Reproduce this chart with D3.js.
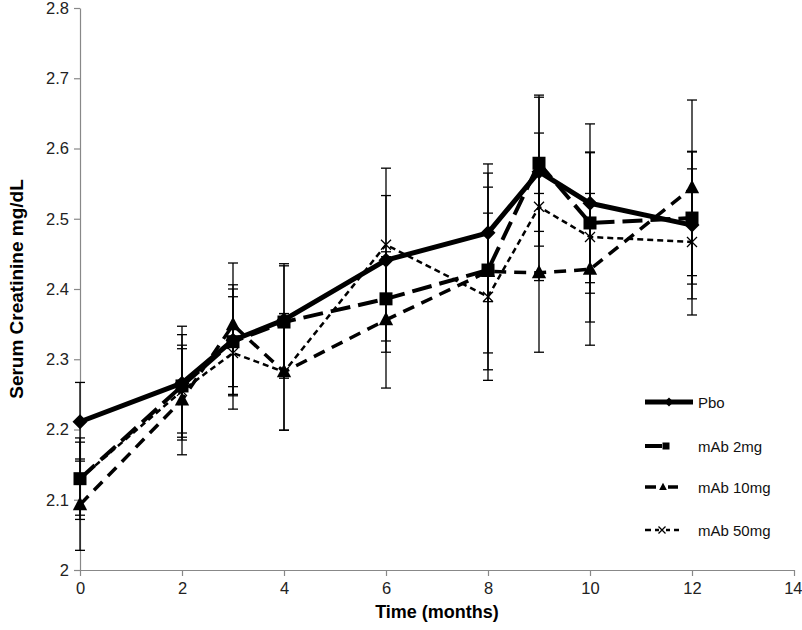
<!DOCTYPE html>
<html><head><meta charset="utf-8">
<script src="https://cdn.jsdelivr.net/npm/d3@7"></script>
<style>body{margin:0;background:#fff;} text{font-family:"Liberation Sans",Arial,sans-serif;}</style>
</head><body>
<svg id="c" width="802" height="630"></svg>
<script>
const months = [0, 2, 3, 4, 6, 8, 9, 10, 12];
const seriesNames = ["Pbo", "mAb 2mg", "mAb 10mg", "mAb 50mg"];
const pboValues  = [2.211, 2.266, 2.327, 2.356, 2.441, 2.480, 2.567, 2.522, 2.491];
const pboErr     = [0.056, 0.081, 0.079, 0.080, 0.131, 0.098, 0.106, 0.113, 0.105];
const mab2Values = [2.130, 2.262, 2.325, 2.353, 2.386, 2.427, 2.579, 2.494, 2.501];
const mab2Err    = [0.058, 0.073, 0.075, 0.080, 0.060, 0.118, 0.097, 0.100, 0.094];
const mab10Values= [2.093, 2.242, 2.349, 2.282, 2.356, 2.425, 2.423, 2.428, 2.544];
const mab10Err   = [0.065, 0.078, 0.088, 0.083, 0.097, 0.140, 0.113, 0.108, 0.125];
const mab50Values= [2.130, 2.255, 2.309, 2.282, 2.463, 2.389, 2.517, 2.474, 2.467];
const mab50Err   = [0.052, 0.060, 0.080, 0.083, 0.070, 0.119, 0.105, 0.121, 0.104];
const xTicks = [0, 2, 4, 6, 8, 10, 12, 14];
const yTicks = [2, 2.1, 2.2, 2.3, 2.4, 2.5, 2.6, 2.7, 2.8];

const svg = d3.select("#c");
const L = 80, T = 8, R = 794, B = 570;
const x = d3.scaleLinear().domain([0, 14]).range([L, R]);
const y = d3.scaleLinear().domain([2, 2.8]).range([B, T]);

const series = [
  {name: seriesNames[0], v: pboValues, e: pboErr, w: 5, dash: null, sym: "diamond"},
  {name: seriesNames[1], v: mab2Values, e: mab2Err, w: 4, dash: "20,8", sym: "square"},
  {name: seriesNames[2], v: mab10Values, e: mab10Err, w: 3.5, dash: "12,8", sym: "triangle"},
  {name: seriesNames[3], v: mab50Values, e: mab50Err, w: 2.5, dash: "6,4", sym: "x"}
];

// axes
const gx = svg.append("g").attr("transform", `translate(0,${B})`)
  .call(d3.axisBottom(x).tickValues(xTicks).tickSize(6).tickSizeOuter(0).tickFormat(d3.format("d")));
const gy = svg.append("g").attr("transform", `translate(${L},0)`)
  .call(d3.axisLeft(y).tickValues(yTicks).tickSize(6).tickSizeOuter(0).tickFormat(d => d === 2 ? "2" : d3.format(".1f")(d)));
[gx, gy].forEach(g => {
  g.select(".domain").attr("stroke", "#888").attr("stroke-width", 1.2);
  g.selectAll(".tick line").attr("stroke", "#888").attr("stroke-width", 1.2);
  g.selectAll(".tick text").attr("font-size", 16.5).attr("fill", "#222")
   .style("font-family", "'Liberation Sans',Arial,sans-serif");
});
gx.selectAll(".tick text").attr("y", 12);
gx.selectAll(".tick text").filter(d => d === 14).attr("text-anchor", "end").attr("x", 8);
gy.selectAll(".tick text").attr("x", -11);

// axis titles
svg.append("text").attr("x", (L + R) / 2).attr("y", 618).attr("text-anchor", "middle")
  .attr("font-size", 18).attr("font-weight", "bold").text("Time (months)");
svg.append("text").attr("transform", `translate(23,${(T + B) / 2}) rotate(-90)`).attr("text-anchor", "middle")
  .attr("font-size", 19).attr("font-weight", "bold").text("Serum Creatinine mg/dL");

// error bars
series.forEach(s => {
  const g = svg.append("g");
  months.forEach((m, i) => {
    const cx = x(m), top = y(s.v[i] + s.e[i]), bot = y(s.v[i] - s.e[i]);
    g.append("line").attr("x1", cx).attr("x2", cx).attr("y1", top).attr("y2", bot).attr("stroke", "#000").attr("stroke-width", 1.3);
    [top, bot].forEach(yy => g.append("line").attr("x1", cx - 5).attr("x2", cx + 5).attr("y1", yy).attr("y2", yy).attr("stroke", "#000").attr("stroke-width", 1.3));
  });
});

function drawSym(g, sym, cx, cy, size) {
  if (sym === "diamond") {
    const r = size / 2 + 1;
    g.append("path").attr("d", `M${cx},${cy - r}L${cx + r},${cy}L${cx},${cy + r}L${cx - r},${cy}Z`).attr("fill", "#000");
  } else if (sym === "square") {
    g.append("rect").attr("x", cx - size / 2).attr("y", cy - size / 2).attr("width", size).attr("height", size).attr("fill", "#000");
  } else if (sym === "triangle") {
    const h = size;
    g.append("path").attr("d", `M${cx},${cy - h * 0.62}L${cx + h * 0.55},${cy + h * 0.42}L${cx - h * 0.55},${cy + h * 0.42}Z`).attr("fill", "#000");
  } else {
    const r = size / 2 - 1;
    g.append("path").attr("d", `M${cx - r},${cy - r}L${cx + r},${cy + r}M${cx - r},${cy + r}L${cx + r},${cy - r}`).attr("stroke", "#000").attr("stroke-width", 1.3).attr("fill", "none");
  }
}

// lines and markers
const line = d3.line().x((d, i) => x(months[i])).y(d => y(d));
series.forEach(s => {
  const g = svg.append("g");
  g.append("path").attr("d", line(s.v)).attr("fill", "none").attr("stroke", "#000")
    .attr("stroke-width", s.w).attr("stroke-dasharray", s.dash).attr("stroke-linejoin", "round");
  s.v.forEach((v, i) => drawSym(g, s.sym, x(months[i]), y(v), s.sym === "x" ? 12 : 13));
});

// legend
const legY = [402, 446, 487, 530];
const legSegs = [[[645, 693]], [[645, 662]], [[645, 656], [668, 678]], [[645, 651], [655, 659], [666, 670], [674, 679]]];
const legMark = [669, 666, 663, 662];
series.forEach((s, i) => {
  const g = svg.append("g");
  legSegs[i].forEach(sg => g.append("line").attr("x1", sg[0]).attr("x2", sg[1]).attr("y1", legY[i]).attr("y2", legY[i])
    .attr("stroke", "#000").attr("stroke-width", s.w));
  drawSym(g, s.sym, legMark[i], legY[i], i === 3 ? 9 : 7);
  g.append("text").attr("x", 698).attr("y", legY[i] + 5.5).attr("font-size", 15).attr("fill", "#111").text(s.name);
});
</script>
</body></html>
